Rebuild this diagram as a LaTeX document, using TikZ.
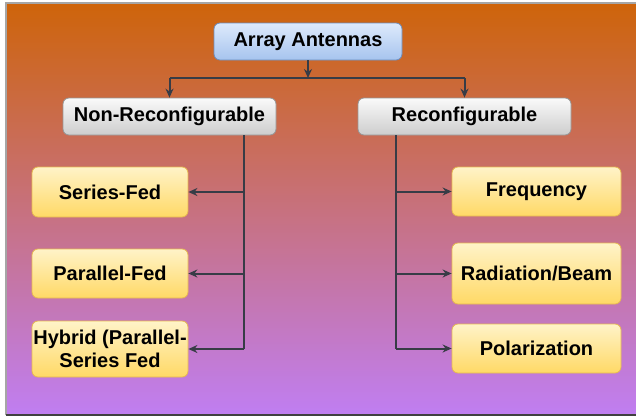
\documentclass[tikz,border=0pt]{standalone}
\usepackage{fontspec}
\setmainfont{Liberation Sans}
\usetikzlibrary{arrows.meta}
\definecolor{bgtop}{RGB}{206,100,10}
\definecolor{bgbot}{RGB}{192,126,242}
\definecolor{ylwtop}{RGB}{255,243,200}
\definecolor{ylwbot}{RGB}{255,217,102}
\definecolor{ylwedge}{RGB}{230,185,80}
\definecolor{grytop}{RGB}{250,250,250}
\definecolor{grybot}{RGB}{205,205,205}
\definecolor{gryedge}{RGB}{150,150,150}
\definecolor{blutop}{RGB}{222,234,252}
\definecolor{blubot}{RGB}{166,196,238}
\definecolor{bluedge}{RGB}{108,142,191}
\definecolor{linecol}{RGB}{55,60,70}
\tikzset{
  box/.style={rounded corners=6pt, inner sep=0pt, align=center,
    font=\fontsize{20}{23}\selectfont\bfseries, line width=0.8pt},
  leaf/.style={box, top color=ylwtop, bottom color=ylwbot, draw=ylwedge},
  mid/.style={box, top color=grytop, bottom color=grybot, draw=gryedge},
  root/.style={box, top color=blutop, bottom color=blubot, draw=bluedge},
  conn/.style={draw=linecol, line width=2pt},
  arr/.style={conn, -{Stealth[length=9pt,width=8pt]}},
}
\begin{document}
\begin{tikzpicture}[x=1pt,y=-1pt]
\useasboundingbox (0,0) rectangle (636,418);
\fill[white] (0,0) rectangle (636,418);
\shade[top color=bgtop, bottom color=bgbot] (6,3) rectangle (636,415);
\draw[gray!70, line width=1.5pt] (6,415) -- (6,3) -- (636,3);
\draw[black!75, line width=1.5pt] (6,415) -- (636,415);

\node[root, minimum width=188pt, minimum height=37pt] (top) at (308,41.5) {Array Antennas};
\node[mid, minimum width=213pt, minimum height=37pt] (nr) at (169.5,116.5) {Non-Reconfigurable};
\node[mid, minimum width=213pt, minimum height=37pt] (rc) at (464.5,116.5) {Reconfigurable};

\node[leaf, minimum width=156pt, minimum height=50pt] (sf) at (110,192) {Series-Fed};
\node[leaf, minimum width=156pt, minimum height=49pt] (pf) at (110,273.5) {Parallel-Fed};
\node[leaf, minimum width=156pt, minimum height=56pt] (hy) at (110,349) {Hybrid (Parallel-\\Series Fed};

\node[leaf, minimum width=169pt, minimum height=49pt] (fr) at (536.5,191.5) {Frequency};
\node[leaf, minimum width=169pt, minimum height=61pt] (rb) at (536.5,273.5) {Radiation/Beam};
\node[leaf, minimum width=169pt, minimum height=49pt] (po) at (536.5,348.5) {Polarization};

\coordinate (j) at (308,78);
\coordinate (lv) at (244,0);
\coordinate (rv) at (396,0);

\draw[arr] (top.south) -- (j);
\draw[conn] (nr.north |- j) -- (rc.north |- j);
\draw[arr] (nr.north |- j) -- (nr.north);
\draw[arr] (rc.north |- j) -- (rc.north);

\draw[conn] (lv |- nr.south) -- (lv |- hy.east);
\draw[arr] (lv |- sf.east) -- (sf.east);
\draw[arr] (lv |- pf.east) -- (pf.east);
\draw[arr] (lv |- hy.east) -- (hy.east);

\draw[conn] (rv |- rc.south) -- (rv |- po.west);
\draw[arr] (rv |- fr.west) -- (fr.west);
\draw[arr] (rv |- rb.west) -- (rb.west);
\draw[arr] (rv |- po.west) -- (po.west);
\end{tikzpicture}
\end{document}
